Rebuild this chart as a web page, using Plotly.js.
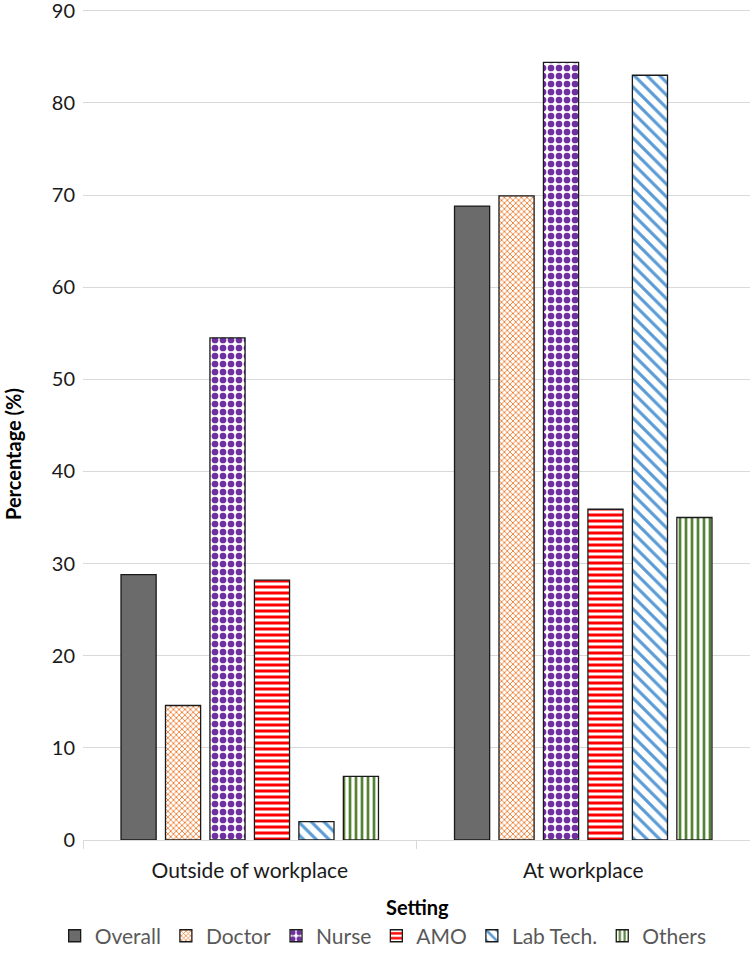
<!DOCTYPE html>
<html>
<head>
<meta charset="utf-8">
<script src="https://cdn.plot.ly/plotly-3.0.1.min.js"></script>
<style>html,body{margin:0;padding:0;background:#fff;}#chart{width:750px;height:968px;}</style>
</head>
<body>
<div id="chart"></div>
<script>
const categories = ["Outside of workplace", "At workplace"];
const seriesNames = ["Overall", "Doctor", "Nurse", "AMO", "Lab Tech.", "Others"];
const overall = [28.8, 68.8];
const doctor = [14.6, 69.9];
const nurse = [54.5, 84.4];
const amo = [28.2, 35.9];
const labTech = [2.0, 83.0];
const others = [6.9, 35.0];
const yTicks = [0, 10, 20, 30, 40, 50, 60, 70, 80, 90];

const values = [overall, doctor, nurse, amo, labTech, others];
const styles = [
  {color: "#6b6b6b", pattern: {shape: ""}},
  {color: "#ffffff", pattern: {shape: "x", fgcolor: "#ed7d31", bgcolor: "#ffffff", size: 4, solidity: 0.4}},
  {color: "#ffffff", pattern: {shape: ".", fgcolor: "#7030a0", bgcolor: "#ffffff", size: 8, solidity: 0.55}},
  {color: "#ffffff", pattern: {shape: "-", fgcolor: "#ff0000", bgcolor: "#ffffff", size: 6, solidity: 0.5}},
  {color: "#ffffff", pattern: {shape: "\\", fgcolor: "#5b9bd5", bgcolor: "#ffffff", size: 9, solidity: 0.35}},
  {color: "#ffffff", pattern: {shape: "|", fgcolor: "#548235", bgcolor: "#ffffff", size: 6, solidity: 0.45}}
];

const traces = seriesNames.map((name, i) => ({
  type: "bar",
  name: name,
  x: categories,
  y: values[i],
  marker: {
    color: styles[i].color,
    pattern: styles[i].pattern,
    line: {color: "#1a1a1a", width: 1.3}
  }
}));

const font = "Lato, 'Open Sans', sans-serif";
const layout = {
  width: 750, height: 968,
  margin: {l: 83, r: 0, t: 8, b: 128, autoexpand: false},
  paper_bgcolor: "#ffffff", plot_bgcolor: "#ffffff",
  barmode: "group", bargap: 0.2, bargroupgap: 0.21,
  font: {family: font, size: 21, color: "#262626"},
  xaxis: {
    type: "category", automargin: false,
    showline: true, linecolor: "#d9d9d9", linewidth: 1,
    ticks: "outside", tickson: "boundaries", ticklen: 8, tickcolor: "#d9d9d9",
    ticklabelstandoff: 12,
    tickfont: {family: font, size: 21, color: "#1a1a1a"}
  },
  yaxis: {
    range: [0, 90.3], tickvals: yTicks, ticktext: yTicks.map(String), automargin: false,
    ticklabeloverflow: "allow",
    showgrid: true, gridcolor: "#d9d9d9", gridwidth: 1,
    zeroline: false, showline: false, ticks: "", ticklabelstandoff: 7,
    tickfont: {family: font, size: 20, color: "#1a1a1a"}
  },
  annotations: [
    {text: "<b>Percentage (%)</b>", xref: "paper", yref: "paper", x: -0.1049, y: 0.464,
     xanchor: "center", yanchor: "middle", textangle: -90, showarrow: false,
     font: {family: font, size: 20, color: "#000"}},
    {text: "<b>Setting</b>", xref: "paper", yref: "paper", x: 0.502, y: -0.0800,
     xanchor: "center", yanchor: "middle", showarrow: false,
     font: {family: font, size: 20, color: "#000"}}
  ],
  legend: {
    orientation: "h", x: 0.45, xanchor: "center", y: -0.1155, yanchor: "middle",
    font: {family: font, size: 21, color: "#595959"},
    itemwidth: 30, traceorder: "normal"
  },
  showlegend: true
};

Plotly.newPlot("chart", traces, layout, {displayModeBar: false, staticPlot: true});
</script>
</body>
</html>
